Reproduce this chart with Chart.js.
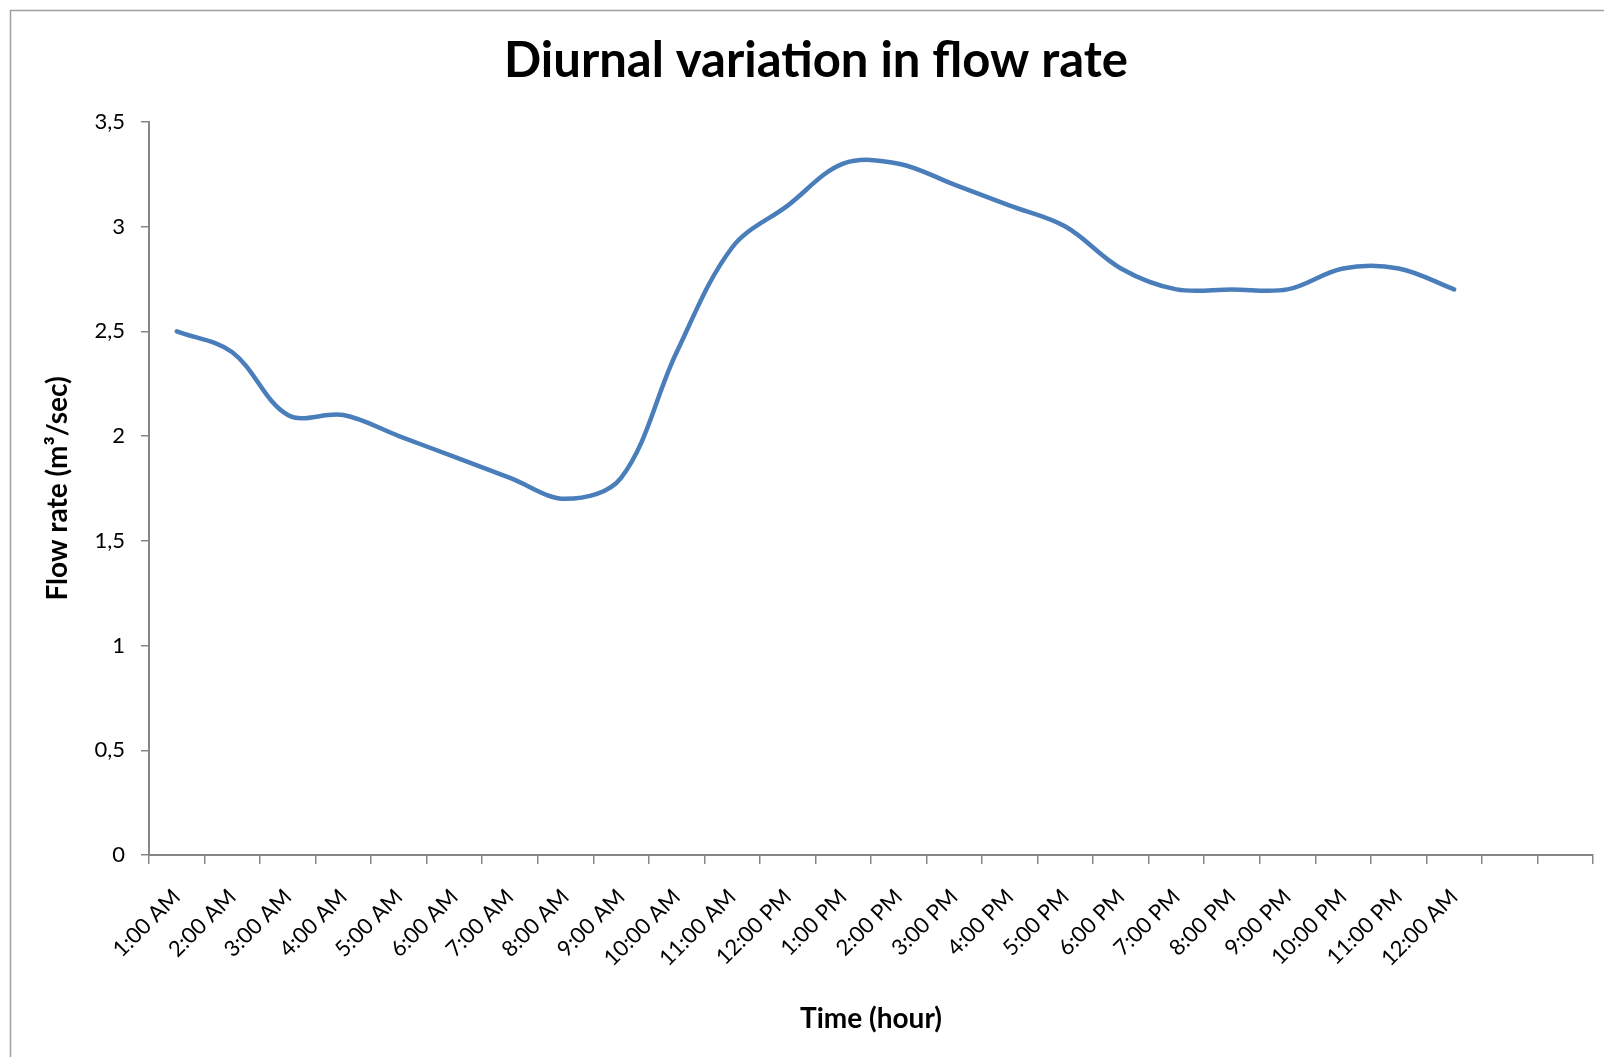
<!DOCTYPE html>
<html>
<head>
<meta charset="utf-8">
<script src="https://cdn.jsdelivr.net/npm/chart.js@4.4.0/dist/chart.umd.min.js"></script>
<style>
  html, body { margin: 0; padding: 0; background: #fff; }
  canvas { display: block; }
</style>
</head>
<body>
<canvas id="flowChart" width="1604" height="1057"></canvas>
<script>
// x categories (two trailing empty slots like the original axis)
const hourLabels = ['1:00 AM', '2:00 AM', '3:00 AM', '4:00 AM', '5:00 AM', '6:00 AM',
  '7:00 AM', '8:00 AM', '9:00 AM', '10:00 AM', '11:00 AM', '12:00 PM',
  '1:00 PM', '2:00 PM', '3:00 PM', '4:00 PM', '5:00 PM', '6:00 PM',
  '7:00 PM', '8:00 PM', '9:00 PM', '10:00 PM', '11:00 PM', '12:00 AM', '', ''];

// flow rate in m3/sec, one per hour
const flowRate = [2.5, 2.4, 2.1, 2.1, 2.0, 1.9, 1.8, 1.7, 1.8, 2.4, 2.9, 3.1,
  3.3, 3.3, 3.2, 3.1, 3.0, 2.8, 2.7, 2.7, 2.7, 2.8, 2.8, 2.7];

const yTicks = [0, 0.5, 1, 1.5, 2, 2.5, 3, 3.5];

const axisGray = '#868686';
const font = 'Lato';

// white page + the thin frame around the chart
const framePlugin = {
  id: 'frame',
  beforeDraw(chart) {
    const ctx = chart.ctx;
    ctx.save();
    ctx.fillStyle = '#fff';
    ctx.fillRect(0, 0, chart.width, chart.height);
    ctx.strokeStyle = '#a0a0a0';
    ctx.lineWidth = 1.5;
    ctx.strokeRect(10.5, 10.5, chart.width + 20, chart.height + 20);
    ctx.restore();
  }
};

new Chart(document.getElementById('flowChart'), {
  type: 'line',
  data: {
    labels: hourLabels,
    datasets: [{
      label: 'Flow rate',
      data: flowRate,
      borderColor: '#4a7ebb',
      borderWidth: 4.5,
      borderCapStyle: 'round',
      pointRadius: 0,
      tension: 0.35,
      fill: false
    }]
  },
  options: {
    responsive: false,
    animation: false,
    devicePixelRatio: 1,
    layout: { padding: { left: 34, right: 6, top: 0, bottom: 0 } },
    plugins: {
      legend: { display: false },
      tooltip: { enabled: false },
      title: {
        display: true,
        text: 'Diurnal variation in flow rate',
        color: '#000',
        font: { family: font, size: 49, weight: 'bold' },
        padding: { top: 32, bottom: 31 }
      }
    },
    scales: {
      x: {
        offset: true,
        grid: { offset: true, drawOnChartArea: false, tickLength: 9, color: axisGray, lineWidth: 1.5 },
        border: { color: axisGray, width: 2 },
        ticks: {
          autoSkip: false,
          maxRotation: 45,
          minRotation: 45,
          padding: 20,
          color: '#000',
          font: { family: font, size: 22 }
        },
        title: {
          display: true,
          text: 'Time (hour)',
          color: '#000',
          font: { family: font, size: 28, weight: 'bold' },
          padding: { top: 4, bottom: 21 }
        },
        afterFit(scale) { scale.height = 1057 - 855; }
      },
      y: {
        min: 0,
        max: 3.5,
        afterBuildTicks(scale) { scale.ticks = yTicks.map(v => ({ value: v })); },
        grid: { drawOnChartArea: false, tickLength: 8, color: axisGray, lineWidth: 1.5 },
        border: { color: axisGray, width: 2 },
        ticks: {
          padding: 16,
          color: '#000',
          font: { family: font, size: 22 },
          callback: v => String(v).replace('.', ',')
        },
        title: {
          display: true,
          text: 'Flow rate (m³/sec)',
          color: '#000',
          font: { family: font, size: 28, weight: 'bold' },
          padding: { top: 7, bottom: 0 }
        },
        afterFit(scale) { scale.width = 115; }
      }
    }
  },
  plugins: [framePlugin]
});
</script>
</body>
</html>
